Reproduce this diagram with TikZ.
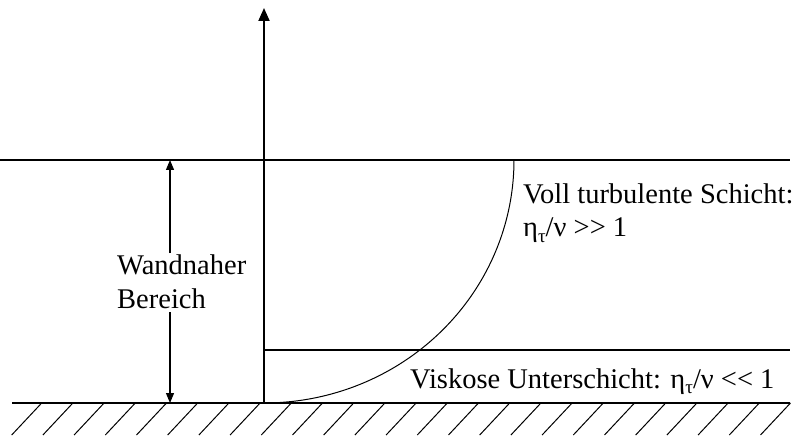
\documentclass[tikz,border=0pt]{standalone}
\usepackage{fontspec}
\setmainfont{Liberation Serif}
\usetikzlibrary{arrows.meta}
\newcommand{\tausub}{\raisebox{-0.45ex}{\fontsize{19}{19}\selectfont τ}}
\begin{document}
\begin{tikzpicture}[x=1pt,y=-1pt,
  thinline/.style={line width=1.3pt},
  axisline/.style={line width=2pt,-{Triangle[length=13pt,width=11pt]}},
  hatchline/.style={line width=1pt},
  dimarrow/.style={line width=1.2pt,-{Triangle[length=10pt,width=8pt]}},
  lbl/.style={inner sep=0pt,anchor=base west,align=left,font=\fontsize{28.5}{33}\selectfont}]
\useasboundingbox (0,0) rectangle (800,438);
% coordinates
\coordinate (gL) at (12,403);
\coordinate (gR) at (790,403);
\coordinate (o) at (264,403);
\coordinate (ytop) at (264,8);
\coordinate (tL) at (0,160);
\coordinate (tR) at (790,160);
\coordinate (vL) at (264,350);
\coordinate (vR) at (790,350);
\coordinate (dT) at (170,160);
\coordinate (dB) at (170,403);
% ground and hatches
\draw[thinline] (gL) -- (gR);
\foreach \i in {0,...,24}{
  \draw[hatchline] ({41.7+31.2*\i},403) -- ({11.7+31.2*\i},435);
}
% layer lines
\draw[thinline] (tL) -- (tR);
\draw[thinline] (vL) -- (vR);
% axis
\draw[axisline] (o) -- (ytop);
% velocity profile
\draw[line width=1pt] plot[domain=0:90,samples=60,smooth] ({264+250*sin(\x)},{160+243*cos(\x)});
% labels
\node[lbl] (wb) at (117,308) {Wandnaher\\Bereich};
\node[lbl] (vt) at (523,237) {Voll turbulente Schicht:\\η\tausub/ν {>}{>} 1};
\node[lbl] (vu) at (410,388) {Viskose Unterschicht: η\tausub/ν {<}{<} 1};
% dimension arrows
\draw[dimarrow] (dT |- wb.north) ++(0,-2) coordinate (wbN) -- (dT);
\draw[dimarrow] (dB |- wb.south) ++(0,4) coordinate (wbS) -- (dB);
\end{tikzpicture}
\end{document}
